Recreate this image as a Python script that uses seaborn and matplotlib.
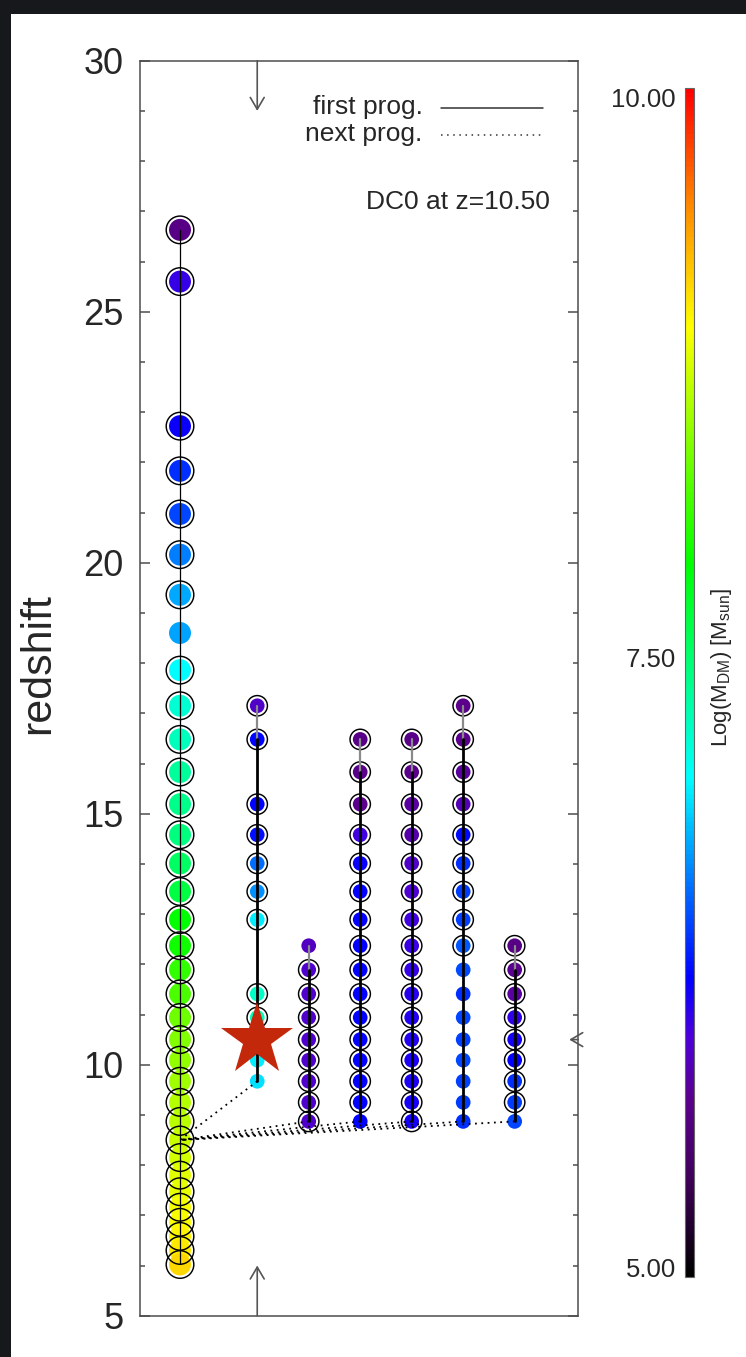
import numpy as np
import pandas as pd
import matplotlib
matplotlib.use("Agg")
import matplotlib.pyplot as plt
from matplotlib.colors import LinearSegmentedColormap, Normalize
from matplotlib.cm import ScalarMappable
from matplotlib.patches import Rectangle
import seaborn as sns

# ---------------------------------------------------------------------------
# Merger tree of DC0: redshift of each snapshot, log halo mass, and whether the
# halo hosts a galaxy (ringed marker), for the main branch and six side branches
# ---------------------------------------------------------------------------
branch_x = [0.0, 1.5, 2.5, 3.5, 4.5, 5.5, 6.5]

main_z = [26.63, 25.60, 22.72, 21.83, 20.97, 20.16, 19.36, 18.60, 17.86, 17.15,
          16.48, 15.83, 15.19, 14.58, 14.01, 13.45, 12.89, 12.37, 11.89, 11.41,
          10.94, 10.50, 10.09, 9.67, 9.25, 8.87, 8.50, 8.15, 7.80, 7.47,
          7.16, 6.86, 6.58, 6.30, 6.02]
main_logm = [5.70, 6.08, 6.22, 6.42, 6.50, 6.69, 6.82, 6.80, 7.10, 7.26,
             7.33, 7.45, 7.50, 7.55, 7.65, 7.77, 8.00, 8.06, 8.20, 8.30,
             8.43, 8.50, 8.56, 8.62, 8.70, 8.72, 8.78, 8.81, 8.87, 8.90,
             8.95, 8.98, 9.04, 9.10, 9.17]
main_ring = [1, 1, 1, 1, 1, 1, 1, 0, 1, 1,
             1, 1, 1, 1, 1, 1, 1, 1, 1, 1,
             1, 1, 1, 1, 1, 1, 1, 1, 1, 1,
             1, 1, 1, 1, 1]

b1_z = [17.15, 16.48, 15.19, 14.58, 14.01, 13.45, 12.89, 11.41, 10.94, 10.50, 10.09, 9.67]
b1_logm = [5.95, 6.25, 6.25, 6.30, 6.63, 6.74, 7.05, 7.30, 7.35, 7.15, 7.05, 7.00]
b1_ring = [1, 1, 1, 1, 1, 1, 1, 1, 1, 1, 0, 0]

b2_z = [12.37, 11.89, 11.41, 10.94, 10.50, 10.09, 9.67, 9.25, 8.87]
b2_logm = [5.92, 5.97, 5.97, 5.97, 5.97, 5.97, 5.97, 5.97, 5.97]
b2_ring = [0, 1, 1, 1, 1, 1, 1, 1, 1]

b3_z = [16.48, 15.83, 15.19, 14.58, 14.01, 13.45, 12.89, 12.37, 11.89, 11.41,
        10.94, 10.50, 10.09, 9.67, 9.25, 8.87]
b3_logm = [5.72, 5.72, 5.74, 6.05, 6.23, 6.24, 6.24, 6.24, 6.24, 6.24,
           6.24, 6.24, 6.24, 6.24, 6.24, 6.25]
b3_ring = [1, 1, 1, 1, 1, 1, 1, 1, 1, 1, 1, 1, 1, 1, 1, 0]

b4_z = [16.48, 15.83, 15.19, 14.58, 14.01, 13.45, 12.89, 12.37, 11.89, 11.41,
        10.94, 10.50, 10.09, 9.67, 9.25, 8.87]
b4_logm = [5.72, 5.74, 5.82, 5.84, 5.95, 5.98, 6.04, 6.06, 6.09, 6.12,
           6.14, 6.15, 6.16, 6.17, 6.18, 6.19]
b4_ring = [1] * 16

b5_z = [17.15, 16.48, 15.83, 15.19, 14.58, 14.01, 13.45, 12.89, 12.37, 11.89,
        11.41, 10.94, 10.50, 10.09, 9.67, 9.25, 8.87]
b5_logm = [5.74, 5.76, 5.82, 5.88, 6.27, 6.42, 6.45, 6.48, 6.55, 6.52,
           6.42, 6.50, 6.48, 6.50, 6.48, 6.45, 6.42]
b5_ring = [1, 1, 1, 1, 1, 1, 1, 1, 1, 0, 0, 0, 0, 0, 0, 0, 0]

b6_z = [12.37, 11.89, 11.41, 10.94, 10.50, 10.09, 9.67, 9.25, 8.87]
b6_logm = [5.70, 5.76, 5.82, 6.10, 6.18, 6.24, 6.42, 6.45, 6.50]
b6_ring = [1, 1, 1, 1, 1, 1, 1, 1, 0]

merge_z = 8.50          # main-branch snapshot that receives the side branches
dc_z = 10.50            # redshift of DC0
mass_range = (5.0, 10.0)
cbar_ticks = [5.0, 7.5, 10.0]
y_ticks = [5, 10, 15, 20, 25, 30]

branches = [(main_z, main_logm, main_ring), (b1_z, b1_logm, b1_ring),
            (b2_z, b2_logm, b2_ring), (b3_z, b3_logm, b3_ring),
            (b4_z, b4_logm, b4_ring), (b5_z, b5_logm, b5_ring),
            (b6_z, b6_logm, b6_ring)]

rows = []
for i, (zs, ms, rs) in enumerate(branches):
    for z, m, r in zip(zs, ms, rs):
        rows.append(dict(branch=i, x=branch_x[i], z=z, logm=m, ring=r, main=(i == 0)))
tree = pd.DataFrame(rows)

# IDL-style rainbow: black -> purple -> blue -> cyan -> green -> yellow -> red
rainbow = LinearSegmentedColormap.from_list("idl_rainbow", [
    (0.00, (0.00, 0.00, 0.00)),
    (0.08, (0.25, 0.00, 0.35)),
    (0.15, (0.36, 0.00, 0.56)),
    (0.20, (0.30, 0.00, 0.85)),
    (0.25, (0.00, 0.00, 1.00)),
    (0.33, (0.00, 0.45, 1.00)),
    (0.42, (0.00, 1.00, 1.00)),
    (0.50, (0.00, 1.00, 0.55)),
    (0.60, (0.00, 1.00, 0.00)),
    (0.70, (0.50, 1.00, 0.00)),
    (0.80, (1.00, 1.00, 0.00)),
    (0.90, (1.00, 0.55, 0.00)),
    (1.00, (1.00, 0.00, 0.00)),
])
norm = Normalize(*mass_range)

sns.set_style("ticks")
plt.rcParams["font.family"] = ["Liberation Sans", "DejaVu Sans"]
plt.rcParams["mathtext.fontset"] = "custom"
plt.rcParams["mathtext.rm"] = "Liberation Sans"
plt.rcParams["mathtext.it"] = "Liberation Sans"

W, H = 746, 1357
fig = plt.figure(figsize=(W / 100, H / 100), dpi=100)
fig.patch.set_facecolor("white")

ax = fig.add_axes([140 / W, 1 - 1315.7 / H, 438 / W, 1255 / H])
cax = fig.add_axes([685 / W, 1 - 1277 / H, 9 / W, 1189 / H])

axis_grey = "#4d4d4d"

# filled halo markers
big = tree[tree["main"]]
small = tree[~tree["main"]]
sns.scatterplot(data=big, x="x", y="z", hue="logm", palette=rainbow, hue_norm=norm,
                s=250, linewidth=0, legend=False, ax=ax, zorder=3)
sns.scatterplot(data=small, x="x", y="z", hue="logm", palette=rainbow, hue_norm=norm,
                s=112, linewidth=0, legend=False, ax=ax, zorder=3)

# rings around haloes hosting a galaxy
rb = big[big["ring"] == 1]
rs = small[small["ring"] == 1]
ax.scatter(rb["x"], rb["z"], s=395, facecolors="none", edgecolors="black",
           linewidths=1.05, zorder=4)
ax.scatter(rs["x"], rs["z"], s=215, facecolors="none", edgecolors="black",
           linewidths=1.05, zorder=4)

# first-progenitor links
for i, (zs, ms, rs_) in enumerate(branches):
    xs = [branch_x[i]] * len(zs)
    if i == 0:
        ax.plot(xs, zs, color="black", lw=0.9, zorder=5)
    else:
        ax.plot(xs[:2], zs[:2], color="#8a8a8a", lw=1.6, zorder=5)
        ax.plot(xs[1:], zs[1:], color="black", lw=2.0, zorder=5)

# next-progenitor links into the main branch
for i in range(1, len(branches)):
    zs = branches[i][0]
    ax.plot([branch_x[i], branch_x[0]], [min(zs), merge_z], color="black",
            lw=1.3, ls=(0, (1, 2.5)), zorder=5)

# DC0 position
ax.plot([branch_x[1]], [dc_z], marker="*", ms=54.5, color="#c4280a",
        markeredgewidth=0, zorder=6, ls="none")

xmin, xmax = -0.777, 7.73
ax.set_xlim(xmin, xmax)
ax.set_ylim(5, 30)

arrow = dict(arrowstyle="->,head_length=0.85,head_width=0.5", color="#555555",
             lw=1.2, shrinkA=0, shrinkB=0)
ax.annotate("", xy=(branch_x[1], 29.0), xytext=(branch_x[1], 30), arrowprops=arrow,
            annotation_clip=False)
ax.annotate("", xy=(branch_x[1], 6.0), xytext=(branch_x[1], 5), arrowprops=arrow,
            annotation_clip=False)
ax.annotate("", xy=(xmax - 0.17, dc_z), xytext=(xmax, dc_z), arrowprops=arrow,
            annotation_clip=False)

# axes styling
ax.set_xticks([])
ax.set_yticks(y_ticks)
ax.set_yticks(np.arange(5, 31, 1), minor=True)
ax.tick_params(axis="y", which="major", direction="in", length=7, width=1.1,
               color=axis_grey, left=True, right=True, labelsize=26, pad=12)
ax.tick_params(axis="y", which="minor", direction="in", length=3.6, width=1.1,
               color=axis_grey, left=True, right=True)
for sp in ax.spines.values():
    sp.set_color(axis_grey)
    sp.set_linewidth(1.1)
ax.set_xlabel("")
ax.set_ylabel("redshift", fontsize=31)
ax.yaxis.set_label_coords(-0.186, 0.52)

# legend drawn as text and line samples
ax.text(0.6454, 0.9635, "first prog.", transform=ax.transAxes, ha="right",
        va="center", fontsize=19)
ax.text(0.6454, 0.9415, "next prog.", transform=ax.transAxes, ha="right",
        va="center", fontsize=19)
ax.plot([0.6865, 0.9195], [0.9626, 0.9626], transform=ax.transAxes, color="#333333",
        lw=1.1)
ax.plot([0.6865, 0.9195], [0.9408, 0.9408], transform=ax.transAxes, color="#333333",
        lw=1.1, ls=(0, (1, 3)))
ax.text(0.936, 0.8874, f"DC0 at z={dc_z:.2f}", transform=ax.transAxes, ha="right",
        va="center", fontsize=19)

# colour bar
cb = fig.colorbar(ScalarMappable(norm=norm, cmap=rainbow), cax=cax)
cb.set_ticks([])
cb.outline.set_edgecolor("#666666")
cb.outline.set_linewidth(0.8)
cax.text(-1.0, 1.0, f"{cbar_ticks[2]:.2f}", transform=cax.transAxes, ha="right",
         va="top", fontsize=18.5)
cax.text(-1.0, 0.519, f"{cbar_ticks[1]:.2f}", transform=cax.transAxes, ha="right",
         va="center", fontsize=18.5)
cax.text(-1.0, 0.0, f"{cbar_ticks[0]:.2f}", transform=cax.transAxes, ha="right",
         va="baseline", fontsize=18.5)
cax.text(4.0, 0.513, r"Log(M$_{\rm DM}$) [M$_{\rm sun}$]", transform=cax.transAxes,
         rotation=90, ha="center", va="center", fontsize=16)

# dark slide background along the top and left edges
fig.patches.append(Rectangle((0, 1 - 14 / H), 1, 14 / H, transform=fig.transFigure,
                             facecolor="#16181c", edgecolor="none", zorder=-1))
fig.patches.append(Rectangle((0, 0), 11 / W, 1, transform=fig.transFigure,
                             facecolor="#16181c", edgecolor="none", zorder=-1))

fig.savefig("out.png", dpi=100, facecolor="white")
